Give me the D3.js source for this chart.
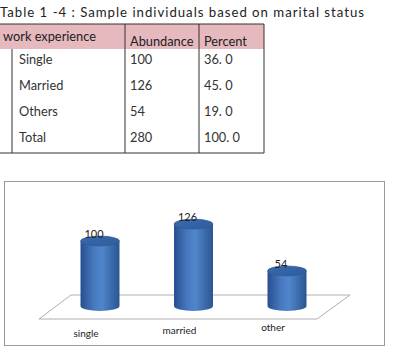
<!DOCTYPE html>
<html>
<head>
<meta charset="utf-8">
<script src="https://cdn.jsdelivr.net/npm/d3@7"></script>
<style>
	body { margin: 0; background: #fff; }
	text { font-family: Lato, 'Open Sans', sans-serif; }
</style>
</head>
<body>
<div id="chart"></div>
<script>
var tableTitle = 'Table 1 -4 : Sample individuals based on marital status';
var headerLabels = ['work experience', 'Abundance', 'Percent'];
var rowLabels = ['Single', 'Married', 'Others', 'Total'];
var abundance = ['100', '126', '54', '280'];
var percent = ['36. 0', '45. 0', '19. 0', '100. 0'];

var categories = ['single', 'married', 'other'];
var values = [100, 126, 54];

var width = 393,
	height = 350;

var svg = d3.select('#chart').append('svg')
	.attr('width', width)
	.attr('height', height);

function drawTable() {
	var colX = [0, 125, 199, 264];
	var top = 24, headH = 25, rowH = 26;
	var bottom = top + headH + rowH * rowLabels.length;

	svg.append('text')
		.attr('x', 0)
		.attr('y', 17)
		.attr('font-size', 13.2)
		.attr('fill', '#222')
		.attr('textLength', 364)
		.attr('lengthAdjust', 'spacing')
		.text(tableTitle);

	svg.append('rect')
		.attr('x', 0)
		.attr('y', top)
		.attr('width', colX[3])
		.attr('height', headH)
		.attr('fill', '#e6b9be');

	// header labels
	svg.selectAll('.head')
		.data(headerLabels)
		.enter().append('text')
		.attr('class', 'head')
		.attr('x', function(d, i) { return i == 0 ? 3 : colX[i] + 5; })
		.attr('y', function(d, i) { return i == 0 ? top + 17 : top + 22; })
		.attr('font-size', 12.8)
		.attr('fill', '#222')
		.text(function(d) { return d; });

	var rows = svg.selectAll('.row')
		.data(rowLabels)
		.enter().append('g')
		.attr('class', 'row')
		.attr('transform', function(d, i) { return 'translate(0,' + (top + headH + rowH * i) + ')'; });

	rows.append('text')
		.attr('x', 19)
		.attr('y', 15)
		.attr('font-size', 12.8)
		.attr('fill', '#333')
		.text(function(d) { return d; });
	rows.append('text')
		.attr('x', colX[1] + 5)
		.attr('y', 15)
		.attr('font-size', 12.8)
		.attr('fill', '#333')
		.text(function(d, i) { return abundance[i]; });
	rows.append('text')
		.attr('x', colX[2] + 5)
		.attr('y', 15)
		.attr('font-size', 12.8)
		.attr('fill', '#333')
		.text(function(d, i) { return percent[i]; });

	var lines = [
		[0, top, colX[3], top],
		[0, bottom, colX[3], bottom],
		[12, top + headH, 12, bottom],
		[colX[1], top, colX[1], bottom],
		[colX[2], top, colX[2], bottom],
		[colX[3], top, colX[3], bottom]
	];
	svg.selectAll('.tline')
		.data(lines)
		.enter().append('line')
		.attr('class', 'tline')
		.attr('x1', function(d) { return d[0]; })
		.attr('y1', function(d) { return d[1]; })
		.attr('x2', function(d) { return d[2]; })
		.attr('y2', function(d) { return d[3]; })
		.attr('stroke', '#333')
		.attr('stroke-width', 1);
}

function drawCylinders() {
	var barR = 19.5, ry = 5;

	svg.append('rect')
		.attr('x', 4.5)
		.attr('y', 181.5)
		.attr('width', 380)
		.attr('height', 164)
		.attr('fill', '#fff')
		.attr('stroke', '#9a9a9a');

	var x = d3.scalePoint()
		.domain(categories)
		.range([100, 287]);
	var y = d3.scaleLinear()
		.domain([0, 140])
		.range([306, 215]);

	var defs = svg.append('defs');
	var side = defs.append('linearGradient')
		.attr('id', 'side')
		.attr('x1', 0).attr('x2', 1).attr('y1', 0).attr('y2', 0);
	side.append('stop').attr('offset', '0%').attr('stop-color', '#284f8e');
	side.append('stop').attr('offset', '35%').attr('stop-color', '#4879c0');
	side.append('stop').attr('offset', '55%').attr('stop-color', '#5086cb');
	side.append('stop').attr('offset', '100%').attr('stop-color', '#2a5592');
	var cap = defs.append('linearGradient')
		.attr('id', 'cap')
		.attr('x1', 0).attr('x2', 1).attr('y1', 0).attr('y2', 1);
	cap.append('stop').attr('offset', '0%').attr('stop-color', '#3a6aac');
	cap.append('stop').attr('offset', '100%').attr('stop-color', '#2e5d9e');

	// floor
	var fl = x.range();
	var floor = [[fl[0] - 29, 295], [fl[1] + 63, 295], [fl[1] + 30, 319], [fl[0] - 61, 319]];
	svg.append('path')
		.attr('d', d3.line()(floor) + 'Z')
		.attr('fill', 'none')
		.attr('stroke', '#b0b0b0')
		.attr('stroke-width', 1);

	var bars = svg.selectAll('.cyl')
		.data(values)
		.enter().append('g')
		.attr('class', 'cyl');

	bars.append('path')
		.attr('fill', 'url(#side)')
		.attr('d', function(d, i) {
			var cx = x(categories[i]), y0 = y(0), y1 = y(d);
			return 'M' + (cx - barR) + ',' + y1 +
				'L' + (cx - barR) + ',' + y0 +
				'A' + barR + ',' + ry + ' 0 0 0 ' + (cx + barR) + ',' + y0 +
				'L' + (cx + barR) + ',' + y1 + 'Z';
		});

	bars.append('ellipse')
		.attr('cx', function(d, i) { return x(categories[i]); })
		.attr('cy', function(d) { return y(d); })
		.attr('rx', barR)
		.attr('ry', ry)
		.attr('fill', 'url(#cap)')
		.attr('stroke', '#2a5590')
		.attr('stroke-width', 0.5);

	bars.append('text')
		.attr('x', function(d, i) { return x(categories[i]) - 6; })
		.attr('y', function(d) { return y(d) - 3; })
		.attr('text-anchor', 'middle')
		.attr('font-size', 11)
		.attr('fill', '#222')
		.text(function(d) { return d; });

	// category labels sit on the tilted floor
	svg.selectAll('.cat')
		.data(categories)
		.enter().append('text')
		.attr('class', 'cat')
		.attr('x', function(d) { return x(d) - 14; })
		.attr('y', function(d, i) { return 337 - i * 3; })
		.attr('text-anchor', 'middle')
		.attr('font-size', 10)
		.attr('fill', '#222')
		.text(function(d) { return d; });
}

drawTable();
drawCylinders();
</script>
</body>
</html>
